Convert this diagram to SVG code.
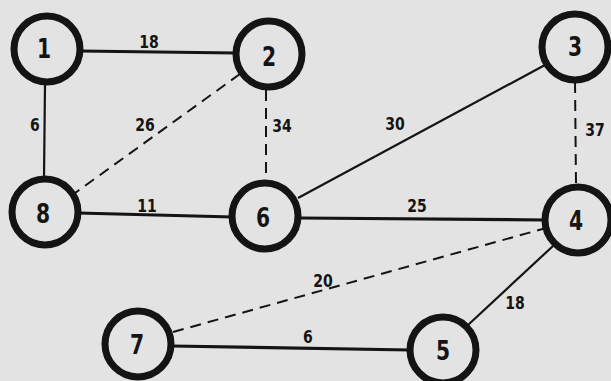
<svg xmlns="http://www.w3.org/2000/svg" width="611" height="381" viewBox="0 0 611 381">
  <style>
    .bg { fill: #e3e3e3; }
    .node circle { fill: #e3e3e3; stroke: #141414; stroke-width: 7; }
    .node text { font-family: "DejaVu Sans", sans-serif; font-weight: bold; font-size: 26px; fill: #141414; text-anchor: middle; }
    .edge { stroke: #141414; fill: none; }
    .thick { stroke-width: 3.2; }
    .thin { stroke-width: 2.2; }
    .dash { stroke-width: 2; stroke-dasharray: 11 7; }
    .lbl { font-family: "DejaVu Sans", sans-serif; font-weight: bold; font-size: 18px; fill: #141414; text-anchor: middle; }
  </style>
  <rect class="bg" x="0" y="0" width="611" height="381"/>

  <g id="connectors">
    <line class="edge thick" x1="80" y1="51" x2="236" y2="53"/>
    <line class="edge thin" x1="45" y1="84" x2="44" y2="178"/>
    <line class="edge dash" x1="240" y1="74" x2="75" y2="193"/>
    <line class="edge dash" x1="266" y1="90" x2="266" y2="183"/>
    <line class="edge thin" x1="545" y1="65" x2="298" y2="198"/>
    <line class="edge dash" x1="575" y1="82" x2="576" y2="184"/>
    <line class="edge thick" x1="300" y1="218" x2="546" y2="220"/>
    <line class="edge thick" x1="78" y1="213" x2="233" y2="217"/>
    <line class="edge dash" x1="173" y1="332" x2="546" y2="228"/>
    <line class="edge thick" x1="172" y1="346" x2="410" y2="350"/>
    <line class="edge thin" x1="553" y1="246" x2="468" y2="325"/>

    <text class="lbl" transform="translate(149,48) scale(0.78,1)">18</text>
    <text class="lbl" transform="translate(35,131) scale(0.78,1)">6</text>
    <text class="lbl" transform="translate(145,131) scale(0.78,1)">26</text>
    <text class="lbl" transform="translate(282,132) scale(0.78,1)">34</text>
    <text class="lbl" transform="translate(395,130) scale(0.78,1)">30</text>
    <text class="lbl" transform="translate(595,136) scale(0.78,1)">37</text>
    <text class="lbl" transform="translate(147,212) scale(0.78,1)">11</text>
    <text class="lbl" transform="translate(417,212) scale(0.78,1)">25</text>
    <text class="lbl" transform="translate(323,287) scale(0.78,1)">20</text>
    <text class="lbl" transform="translate(308,343) scale(0.78,1)">6</text>
    <text class="lbl" transform="translate(515,309) scale(0.78,1)">18</text>
  </g>

  <g id="node-1" class="node"><circle cx="47" cy="49" r="33"/><text transform="translate(44,58) scale(0.78,1)">1</text></g>
  <g id="node-2" class="node"><circle cx="269" cy="54" r="33"/><text transform="translate(269,66) scale(0.78,1)">2</text></g>
  <g id="node-3" class="node"><circle cx="575" cy="47" r="33"/><text transform="translate(575,56) scale(0.78,1)">3</text></g>
  <g id="node-4" class="node"><circle cx="578" cy="220" r="33"/><text transform="translate(576,230) scale(0.78,1)">4</text></g>
  <g id="node-8" class="node"><circle cx="45" cy="212" r="33"/><text transform="translate(43,223) scale(0.78,1)">8</text></g>
  <g id="node-6" class="node"><circle cx="265" cy="216" r="33"/><text transform="translate(263,227) scale(0.78,1)">6</text></g>
  <g id="node-7" class="node"><circle cx="138" cy="344" r="33"/><text transform="translate(137,354) scale(0.78,1)">7</text></g>
  <g id="node-5" class="node"><circle cx="443" cy="350" r="33"/><text transform="translate(443,360) scale(0.78,1)">5</text></g>
</svg>
